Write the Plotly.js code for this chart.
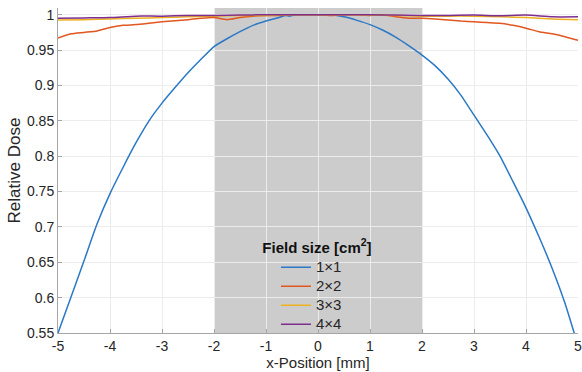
<!DOCTYPE html>
<html>
<head>
<meta charset="utf-8">
<script src="https://cdn.plot.ly/plotly-3.0.1.min.js"></script>
<style>html,body{margin:0;padding:0;background:#fff;}#chart{width:582px;height:372px;}</style>
</head>
<body>
<div id="chart"></div>
<script>
// Data
const seriesNames = ['1\u00d71', '2\u00d72', '3\u00d73', '4\u00d74'];

const xBlue = [-5, -4.75, -4.5, -4.25, -4, -3.75, -3.5, -3.25, -3, -2.75, -2.5, -2.25, -2, -1.75, -1.5, -1.25, -1, -0.75, -0.625, -0.55, -0.5, -0.25, 0, 0.25, 0.5, 0.75, 1, 1.25, 1.5, 1.75, 2, 2.25, 2.5, 2.75, 3, 3.25, 3.5, 3.75, 4, 4.25, 4.5, 4.75, 5];
const yBlue = [0.550, 0.601, 0.652, 0.704, 0.747, 0.784, 0.819, 0.850, 0.875, 0.897, 0.918, 0.937, 0.955, 0.966, 0.976, 0.985, 0.991, 0.996, 0.999, 0.998, 0.999, 1.000, 1.000, 1.000, 0.997, 0.992, 0.986, 0.978, 0.968, 0.956, 0.943, 0.928, 0.909, 0.886, 0.858, 0.830, 0.800, 0.764, 0.727, 0.686, 0.642, 0.592, 0.532];

const xOrange = [-5, -4.75, -4.5, -4.25, -4, -3.75, -3.5, -3.25, -3, -2.75, -2.5, -2.25, -2, -1.75, -1.5, -1.25, -1, -0.75, -0.5, -0.25, 0, 0.25, 0.5, 0.75, 1, 1.25, 1.5, 1.75, 2, 2.25, 2.5, 2.75, 3, 3.25, 3.5, 3.75, 4, 4.25, 4.5, 4.75, 5];
const yOrange = [0.967, 0.973, 0.975, 0.977, 0.982, 0.985, 0.986, 0.988, 0.990, 0.9915, 0.993, 0.995, 0.996, 0.993, 0.996, 0.998, 0.999, 0.999, 1.000, 1.000, 1.000, 0.999, 1.000, 1.000, 0.999, 1.000, 0.997, 0.995, 0.995, 0.994, 0.9925, 0.991, 0.990, 0.989, 0.988, 0.985, 0.981, 0.976, 0.973, 0.969, 0.964];

const xYellow = [-5, -4.5, -4, -3.5, -3, -2.5, -2, -1.5, -1, -0.5, 0, 0.5, 1, 1.5, 2, 2.5, 3, 3.5, 4, 4.5, 5];
const yYellow = [0.9925, 0.993, 0.994, 0.995, 0.996, 0.997, 0.998, 0.999, 0.999, 1.000, 1.000, 1.000, 0.9995, 0.999, 0.998, 0.998, 0.998, 0.997, 0.996, 0.994, 0.993];

const xPurple = [-5, -4.5, -4, -3.5, -3, -2.5, -2, -1.5, -1, -0.5, 0, 0.5, 1, 1.5, 2, 2.5, 3, 3.5, 4, 4.5, 5];
const yPurple = [0.995, 0.9955, 0.996, 0.998, 0.998, 0.999, 0.999, 0.9995, 1.000, 1.000, 1.000, 1.000, 1.000, 0.9995, 0.999, 0.999, 0.9995, 0.9985, 0.9995, 0.997, 0.997];

const xTickVals = [-5, -4, -3, -2, -1, 0, 1, 2, 3, 4, 5];
const xTickText = ['-5', '-4', '-3', '-2', '-1', '0', '1', '2', '3', '4', '5'];
const yTickVals = [0.55, 0.6, 0.65, 0.7, 0.75, 0.8, 0.85, 0.9, 0.95, 1];
const yTickText = ['0.55', '0.6', '0.65', '0.7', '0.75', '0.8', '0.85', '0.9', '0.95', '1'];
const shadeRange = [-2, 2];

const colors = ['#2a78c6', '#e2561f', '#edb120', '#7e2f8e'];
const xs = [xBlue, xOrange, xYellow, xPurple];
const ys = [yBlue, yOrange, yYellow, yPurple];

const traces = seriesNames.map((n, i) => ({
  x: xs[i], y: ys[i], type: 'scatter', mode: 'lines',
  name: '<span style="font-size:15px">' + n + '</span>',
  line: {color: colors[i], width: 1.5, shape: 'spline', smoothing: 0.5}
}));

const fam = 'Liberation Sans, Arial, sans-serif';

const layout = {
  width: 582, height: 372,
  margin: {l: 58, r: 4, t: 8, b: 39},
  paper_bgcolor: '#ffffff', plot_bgcolor: '#ffffff',
  font: {family: fam, size: 14, color: '#262626'},
  showlegend: true,
  xaxis: {
    range: [-5, 5], tickvals: xTickVals, ticktext: xTickText,
    showgrid: true, gridcolor: '#ececec', gridwidth: 1,
    showline: true, linecolor: '#a6a6a6', linewidth: 1,
    ticks: 'inside', ticklen: 4, tickcolor: '#a6a6a6',
    zeroline: false, ticklabeloverflow: 'allow',
    tickfont: {size: 14, color: '#262626'},
    title: {text: 'x-Position [mm]', font: {size: 15, color: '#262626'}, standoff: 4}
  },
  yaxis: {
    range: [0.55, 1.0095], tickvals: yTickVals, ticktext: yTickText,
    showgrid: true, gridcolor: '#ececec', gridwidth: 1,
    showline: true, linecolor: '#a6a6a6', linewidth: 1,
    ticks: 'inside', ticklen: 4, tickcolor: '#a6a6a6',
    zeroline: false, tickfont: {size: 14, color: '#262626'},
    title: {text: 'Relative Dose', font: {size: 17, color: '#262626'}, standoff: 2}
  },
  shapes: [{
    type: 'rect', xref: 'x', yref: 'paper',
    x0: shadeRange[0], x1: shadeRange[1], y0: 0, y1: 1,
    fillcolor: '#cccccc', line: {width: 0}, layer: 'below'
  }],
  legend: {
    x: 0.498, xanchor: 'center', y: 0.307, yanchor: 'top',
    bgcolor: 'rgba(0,0,0,0)', borderwidth: 0,
    font: {size: 11, color: '#262626', family: fam},
    title: {text: '<b>Field size [cm<sup>2</sup>]</b>', side: 'top center', font: {size: 15, color: '#111111', family: fam}},
    tracegroupgap: 0, indentation: 16
  }
};

Plotly.newPlot('chart', traces, layout, {displayModeBar: false, staticPlot: true});
</script>
</body>
</html>
